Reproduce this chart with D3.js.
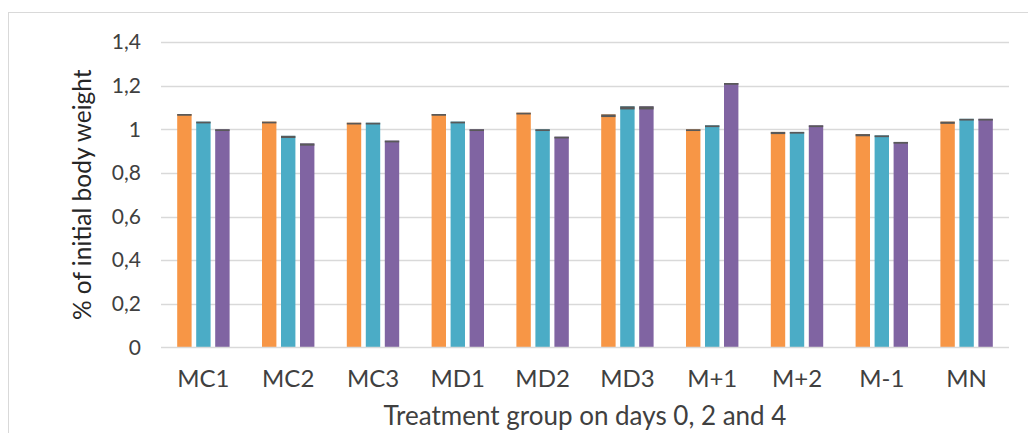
<!DOCTYPE html>
<html><head><meta charset="utf-8">
<script src="https://cdn.jsdelivr.net/npm/d3@7"></script>
<style>html,body{margin:0;padding:0;background:#fff;}svg{display:block;}</style>
</head><body>
<svg id="chart" width="1028" height="433"></svg>
<script>
const categories = ["MC1","MC2","MC3","MD1","MD2","MD3","M+1","M+2","M-1","MN"];
const seriesNames = ["Day 0","Day 2","Day 4"];
const day0 = [1.070,1.035,1.030,1.070,1.076,1.068,1.000,0.988,0.978,1.035];
const day2 = [1.035,0.970,1.030,1.035,1.000,1.105,1.018,0.988,0.972,1.048];
const day4 = [1.000,0.935,0.948,1.000,0.966,1.105,1.212,1.018,0.942,1.048];
const err0 = [0.004,0.004,0.004,0.004,0.004,0.006,0.004,0.005,0.005,0.005];
const err2 = [0.004,0.005,0.004,0.004,0.004,0.007,0.004,0.004,0.004,0.004];
const err4 = [0.004,0.005,0.004,0.004,0.004,0.007,0.004,0.004,0.004,0.004];
const yTicks = [0,0.2,0.4,0.6,0.8,1.0,1.2,1.4];
const tickLabels = ["0","0,2","0,4","0,6","0,8","1","1,2","1,4"];
const colors = ["#F79646","#4BACC6","#8064A2"];
const xTitle = "Treatment group on days 0, 2 and 4";
const yTitle = "% of initial body weight";

const values = [day0, day2, day4];
const errs = [err0, err2, err4];
const svg = d3.select("#chart");
const font = "Lato, 'Open Sans', sans-serif";

// outer frame
svg.append("rect").attr("x",8.5).attr("y",12.5).attr("width",1040).attr("height",450)
  .attr("fill","none").attr("stroke","#d9d9d9").attr("stroke-width",1);

const plotL = 161, plotR = 1009, plotT = 42, plotB = 347.5;
const x0 = d3.scaleBand().domain(categories).range([plotL, plotR]).paddingInner(0.382).paddingOuter(0.191);
const x1 = d3.scaleBand().domain(seriesNames).range([0, x0.bandwidth()]).paddingInner(0.242);
const y = d3.scaleLinear().domain([0,1.4]).range([plotB, plotT]);

// gridlines
svg.append("g").selectAll("line").data(yTicks.slice(1)).join("line")
  .attr("x1",plotL).attr("x2",plotR)
  .attr("y1",d=>Math.round(y(d))+0.5).attr("y2",d=>Math.round(y(d))+0.5)
  .attr("stroke","#d9d9d9").attr("stroke-width",1.3);

// y axis labels
const yAxis = d3.axisLeft(y).tickValues(yTicks).tickSize(0).tickPadding(0)
  .tickFormat((d,i)=>tickLabels[i]);
const ya = svg.append("g").attr("transform",`translate(141,0)`).call(yAxis);
ya.select(".domain").remove();
ya.selectAll("text").attr("font-family",font).attr("font-size",21).attr("fill","#404040");

// bars
const groups = svg.append("g").selectAll("g").data(categories).join("g")
  .attr("transform",d=>`translate(${x0(d)},0)`);
groups.each(function(cat, ci){
  const g = d3.select(this);
  seriesNames.forEach((s, si)=>{
    const v = values[si][ci], e = errs[si][ci];
    g.append("rect").attr("x",x1(s)).attr("width",x1.bandwidth())
      .attr("y",y(v)).attr("height",y(0)-y(v)).attr("fill",colors[si]);
    g.append("rect").attr("x",x1(s)).attr("width",x1.bandwidth())
      .attr("y",y(v)).attr("height",y(v-2*e)-y(v)).attr("fill","#595959");
  });
});

// baseline
svg.append("line").attr("x1",plotL).attr("x2",plotR).attr("y1",plotB).attr("y2",plotB)
  .attr("stroke","#d9d9d9").attr("stroke-width",1.3);

// x axis labels
const xAxis = d3.axisBottom(x0).tickSize(0).tickPadding(0);
const xa = svg.append("g").attr("transform",`translate(0,${plotB})`).call(xAxis);
xa.select(".domain").remove();
xa.selectAll("text").attr("dy",null).attr("y",39).attr("font-family",font)
  .attr("font-size",24).attr("fill","#404040");

// titles
svg.append("text").attr("x",(plotL+plotR)/2).attr("y",425).attr("text-anchor","middle")
  .attr("font-family",font).attr("font-size",26).attr("fill","#404040").text(xTitle);
svg.append("text").attr("transform",`translate(91,${(plotT+plotB)/2}) rotate(-90)`)
  .attr("text-anchor","middle").attr("font-family",font).attr("font-size",24.5)
  .attr("fill","#262626").text(yTitle);
</script>
</body></html>
